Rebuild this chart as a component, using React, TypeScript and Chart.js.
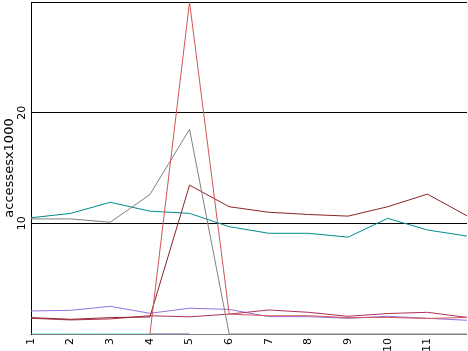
import React, { useEffect, useRef } from "react";
import { Chart, registerables } from "chart.js";

Chart.register(...registerables);

const categories = ["1", "2", "3", "4", "5", "6", "7", "8", "9", "10", "11", "12"];
const yTickLabels = [10, 20];

const cyanSeries = [0, 0, 0, 0, null, null, null, null, null, null, null, null];
const slateSeries = [null, null, null, 0, 0, null, null, null, null, null, null, null];
const tealSeries = [10.5, 10.9, 11.9, 11.1, 10.9, 9.7, 9.1, 9.1, 8.75, 10.45, 9.4, 8.85];
const graySeries = [10.4, 10.4, 10.1, 12.6, 18.5, 0, 0, 0, 0, 0, 0, 0];
const redSeries = [null, null, null, 0, 30, 1.8, 1.65, 1.65, 1.48, 1.5, 1.4, 1.5];
const darkRedSeries = [1.48, 1.33, 1.48, 1.54, 13.45, 11.5, 11.0, 10.8, 10.65, 11.5, 12.64, 10.68];
const maroonSeries = [1.42, 1.27, 1.36, 1.65, 1.55, 1.8, 2.17, 1.96, 1.6, 1.85, 1.96, 1.5];
const purpleSeries = [2.08, 2.14, 2.5, 1.87, 2.33, 2.22, 1.57, 1.57, 1.42, 1.6, 1.42, 1.24];

const rotatedYLabels = {
  id: "rotatedYLabels",
  afterDraw(chart: any) {
    const scale = chart.scales.y;
    const ctx = chart.ctx;
    ctx.save();
    ctx.fillStyle = "#000000";
    ctx.font = "11px 'DejaVu Sans', sans-serif";
    ctx.textAlign = "center";
    ctx.textBaseline = "middle";
    for (const v of yTickLabels) {
      const y = scale.getPixelForValue(v);
      ctx.save();
      ctx.translate(scale.right - 9, y);
      ctx.rotate(-Math.PI / 2);
      ctx.fillText(String(v), 0, 0);
      ctx.restore();
    }
    ctx.restore();
  },
};

export default function App() {
  const ref = useRef<HTMLCanvasElement | null>(null);

  useEffect(() => {
    if (!ref.current) return;
    Chart.defaults.font.family = "'DejaVu Sans', sans-serif";
    Chart.defaults.color = "#000000";
    const mk = (data: (number | null)[], color: string) => ({
      data,
      borderColor: color,
      backgroundColor: color,
      borderWidth: 1,
      pointRadius: 0,
      tension: 0,
      fill: false,
    });
    const chart = new Chart(ref.current, {
      type: "line",
      data: {
        labels: categories,
        datasets: [
          mk(cyanSeries, "#40e0d0"),
          mk(slateSeries, "#5f5faf"),
          mk(redSeries, "#d05555"),
          mk(graySeries, "#808080"),
          mk(darkRedSeries, "#8b2323"),
          mk(tealSeries, "#008b8b"),
          mk(maroonSeries, "#b03060"),
          mk(purpleSeries, "#9370db"),
        ],
      },
      options: {
        animation: false,
        responsive: false,
        devicePixelRatio: 1,
        layout: { padding: { top: 2, right: 1, bottom: 0, left: 0 } },
        plugins: { legend: { display: false }, tooltip: { enabled: false } },
        scales: {
          x: {
            type: "category",
            offset: false,
            grid: { display: false, drawTicks: false },
            border: { display: false },
            ticks: {
              minRotation: 90,
              maxRotation: 90,
              autoSkip: false,
              padding: 4,
              font: { size: 11 },
              color: "#000000",
              callback: (_v: any, i: number) => (i === categories.length - 1 ? "" : categories[i]),
            },
            afterFit: (s: any) => {
              s.height = 17;
              s.paddingLeft = 0;
              s.paddingRight = 0;
            },
          },
          y: {
            min: 0,
            max: 30,
            grid: {
              drawTicks: false,
              color: (c: any) => (c.tick && c.tick.value === 0 ? "#808080" : "#000000"),
              lineWidth: 1,
            },
            border: { display: true, color: "#000000", width: 1 },
            ticks: {
              stepSize: 10,
              display: false,
            },
            title: {
              display: true,
              text: "accessesx1000",
              font: { size: 13 },
              color: "#000000",
              padding: { top: 2, bottom: 0 },
            },
            afterFit: (s: any) => {
              s.width = 31;
              s.paddingTop = 0;
              s.paddingBottom = 0;
            },
          },
        },
      },
      plugins: [rotatedYLabels],
    });
    return () => chart.destroy();
  }, []);

  return (
    <div style={{ position: "absolute", left: 0, top: 0, width: 468, height: 351, background: "#ffffff" }}>
      <canvas ref={ref} width={468} height={351} style={{ display: "block" }} />
    </div>
  );
}
